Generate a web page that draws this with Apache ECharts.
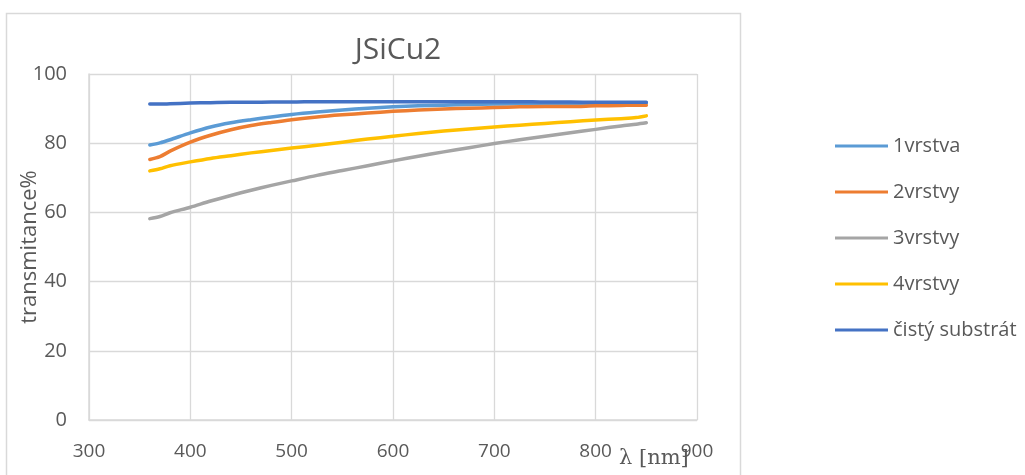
<!DOCTYPE html>
<html>
<head>
<meta charset="utf-8">
<script src="https://cdn.jsdelivr.net/npm/echarts@6/dist/echarts.min.js"></script>
<style>
html,body{margin:0;padding:0;background:#fff;}
#chart{width:1025px;height:475px;}
</style>
</head>
<body>
<div id="chart"></div>
<script>
// wavelength [nm]
const wavelengths = [360,370,380,400,420,440,460,480,500,525,550,575,600,625,650,675,700,725,750,775,800,825,840,850];
const seriesNames = ['1vrstva','2vrstvy','3vrstvy','4vrstvy','čistý substrát'];
const vrstva1 = [79.5,80.1,81.0,83.0,84.7,85.9,86.8,87.6,88.3,89.0,89.6,90.1,90.5,90.8,91.0,91.2,91.3,91.4,91.4,91.3,91.3,91.4,91.5,91.6];
const vrstvy2 = [75.3,76.1,77.7,80.3,82.3,83.9,85.1,86.0,86.8,87.6,88.2,88.7,89.2,89.6,89.9,90.1,90.3,90.5,90.6,90.6,90.8,90.9,91.0,91.0];
const vrstvy3 = [58.2,58.8,59.9,61.5,63.3,64.9,66.4,67.8,69.1,70.7,72.1,73.5,74.9,76.2,77.5,78.7,79.9,81.0,82.0,83.0,84.0,85.0,85.5,85.9];
const vrstvy4 = [72.0,72.6,73.5,74.6,75.6,76.4,77.2,77.9,78.6,79.4,80.3,81.2,82.0,82.8,83.5,84.1,84.7,85.2,85.7,86.2,86.7,87.1,87.4,87.9];
const substrat = [91.3,91.3,91.4,91.6,91.7,91.8,91.8,91.9,91.9,92.0,92.0,92.0,92.0,92.0,92.0,92.0,92.0,92.0,91.9,91.9,91.8,91.8,91.8,91.8];
const xTicks = [300,400,500,600,700,800,900];
const yTicks = [0,20,40,60,80,100];
const colors = ['#5B9BD5','#ED7D31','#A5A5A5','#FFC000','#4472C4'];

const allValues = [vrstva1, vrstvy2, vrstvy3, vrstvy4, substrat];
const font = 'Open Sans';
const grey = '#595959';
const gridCol = '#d9d9d9';

const chart = echarts.init(document.getElementById('chart'), null, {renderer:'canvas'});
chart.setOption({
  animation:false,
  backgroundColor:'#fff',
  color: colors,
  title:{
    text:'JSiCu2', left:393, top:30, textAlign:'center',
    textStyle:{fontFamily:font, fontSize:30, fontWeight:'normal', color:grey}
  },
  graphic:[
    {type:'rect', shape:{x:6.5,y:13.5,width:734,height:480}, style:{fill:null, stroke:gridCol, lineWidth:1.5}, silent:true, z:-1},
    {type:'text', left:619, top:448, style:{text:'λ [nm]', fontFamily:'DejaVu Serif', fontSize:21, fill:grey}}
  ],
  legend:{
    orient:'vertical', left:830, top:130, icon:'rect', itemWidth:53, itemHeight:3, itemGap:24,
    data: seriesNames,
    textStyle:{fontFamily:font, fontSize:20, color:grey, lineHeight:22}
  },
  grid:{left:89, right:328, top:74, bottom:55, containLabel:false, outerBoundsMode:'none'},
  xAxis:{
    type:'value', min:xTicks[0], max:xTicks[xTicks.length-1], interval:100,
    axisLine:{show:true, lineStyle:{color:gridCol, width:1.5}},
    axisTick:{show:false},
    splitLine:{show:true, lineStyle:{color:gridCol, width:1.3}},
    axisLabel:{fontFamily:font, fontSize:19, color:grey, margin:22}
  },
  yAxis:{
    type:'value', min:yTicks[0], max:yTicks[yTicks.length-1], interval:20,
    name:'transmitance%', nameLocation:'middle', nameGap:48, nameMoveOverlap:false,
    nameTextStyle:{fontFamily:font, fontSize:22, color:grey},
    axisLine:{show:true, lineStyle:{color:gridCol, width:1.5}},
    axisTick:{show:false},
    splitLine:{show:true, lineStyle:{color:gridCol, width:1.3}},
    axisLabel:{fontFamily:font, fontSize:20, color:grey, margin:22}
  },
  series: seriesNames.map((n,i)=>({
    name:n, type:'line', showSymbol:false, smooth:0.3,
    data: wavelengths.map((w,j)=>[w, allValues[i][j]]),
    lineStyle:{width:3.5, color:colors[i], cap:'round', join:'round'},
    itemStyle:{color:colors[i]}
  }))
});
</script>
</body>
</html>
